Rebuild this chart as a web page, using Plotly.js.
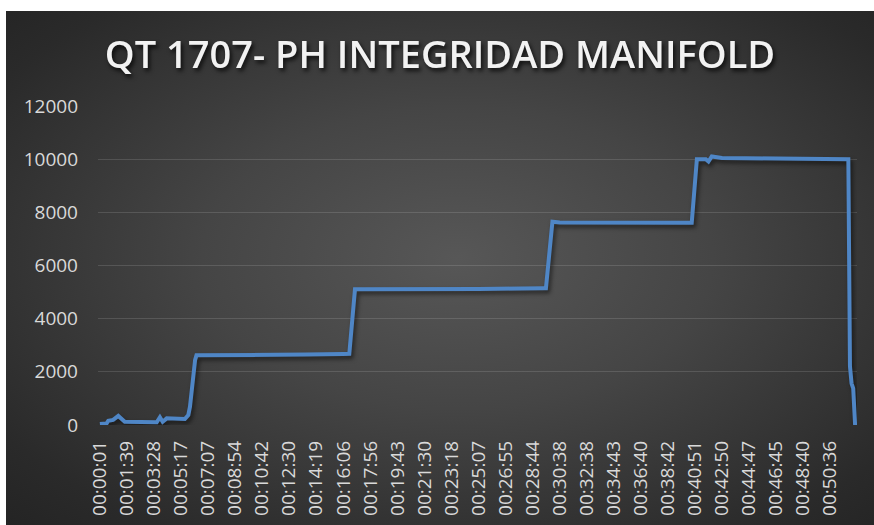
<!DOCTYPE html>
<html>
<head>
<meta charset="utf-8">
<script src="https://cdn.plot.ly/plotly-3.0.1.min.js"></script>
<style>
  html, body { margin: 0; padding: 0; background: #ffffff; }
  #wrap { position: absolute; left: 6px; top: 11px; width: 868px; height: 514px;
    background: radial-gradient(ellipse farthest-corner at 52% 48%, #575757 0%, #454545 40%, #2a2a2a 85%, #242424 100%); }
  #chart { width: 868px; height: 514px; }
  .gtitle { filter: drop-shadow(2px 3px 2px rgba(0,0,0,0.75)); }
  .scatterlayer .js-line { filter: drop-shadow(2px 3px 2px rgba(0,0,0,0.55)); }
</style>
</head>
<body>
<div id="wrap"><div id="chart"></div></div>
<script>
// Sample index of each breakpoint (category position) and pressure reading
const sampleIndex = [0, 25, 31, 49, 68, 80, 92, 210, 222, 232, 247, 314, 327, 333, 339, 344, 352, 357,
  600, 760, 900, 922, 943, 1200, 1400, 1640, 1649, 1673, 1700, 2180, 2188, 2207, 2240, 2250, 2262, 2300,
  2500, 2767, 2773, 2779, 2785, 2792];
const pressure = [40, 60, 160, 190, 340, 210, 125, 100, 290, 125, 250, 225, 376, 690, 1317, 1880, 2450, 2620,
  2625, 2650, 2670, 2675, 5107, 5100, 5120, 5145, 5145, 7650, 7620, 7610, 7610, 10000, 10000, 9910, 10100, 10040,
  10020, 10000, 2200, 1560, 1380, 0];

const tickPositions = [0,100,200,300,400,500,600,700,800,900,1000,1100,1200,1300,1400,1500,1600,1700,1800,1900,2000,2100,2200,2300,2400,2500,2600,2700];
const tickLabels = ["00:00:01","00:01:39","00:03:28","00:05:17","00:07:07","00:08:54","00:10:42","00:12:30",
  "00:14:19","00:16:06","00:17:56","00:19:43","00:21:30","00:23:18","00:25:07","00:26:55","00:28:44","00:30:38",
  "00:32:38","00:34:43","00:36:40","00:38:42","00:40:51","00:42:50","00:44:47","00:46:45","00:48:40","00:50:36"];
const yTicks = [0, 2000, 4000, 6000, 8000, 10000, 12000];

const trace = {
  x: sampleIndex, y: pressure, type: 'scatter', mode: 'lines',
  line: { color: '#4f86c6', width: 4, shape: 'linear' },
  hoverinfo: 'skip'
};

const layout = {
  width: 868, height: 514,
  paper_bgcolor: 'rgba(0,0,0,0)', plot_bgcolor: 'rgba(0,0,0,0)',
  margin: { l: 92, r: 17, t: 95, b: 100 },
  showlegend: false,
  title: { text: 'QT 1707- PH INTEGRIDAD MANIFOLD', x: 0.5, xanchor: 'center', y: 1 - 44/514, yanchor: 'middle',
    font: { family: 'Open Sans', size: 38, color: '#f2f2f2', weight: 600 } },
  xaxis: {
    range: [-7, 2799], tickmode: 'array', tickvals: tickPositions, ticktext: tickLabels,
    tickangle: -90, showgrid: false, zeroline: false, showline: false, ticks: '',
    ticklabelstandoff: 11,
    tickfont: { family: 'Open Sans', size: 19, color: '#d9d9d9' }
  },
  yaxis: {
    range: [0, 12000], tickmode: 'array', tickvals: yTicks, ticktext: yTicks.map(String),
    showgrid: true, gridcolor: 'rgba(255,255,255,0.13)', gridwidth: 1, zeroline: false, showline: false, ticks: '',
    ticklabelstandoff: 19,
    tickfont: { family: 'Open Sans', size: 19, color: '#d9d9d9' }
  }
};

Plotly.newPlot('chart', [trace], layout, { staticPlot: true, displayModeBar: false });
</script>
</body>
</html>
